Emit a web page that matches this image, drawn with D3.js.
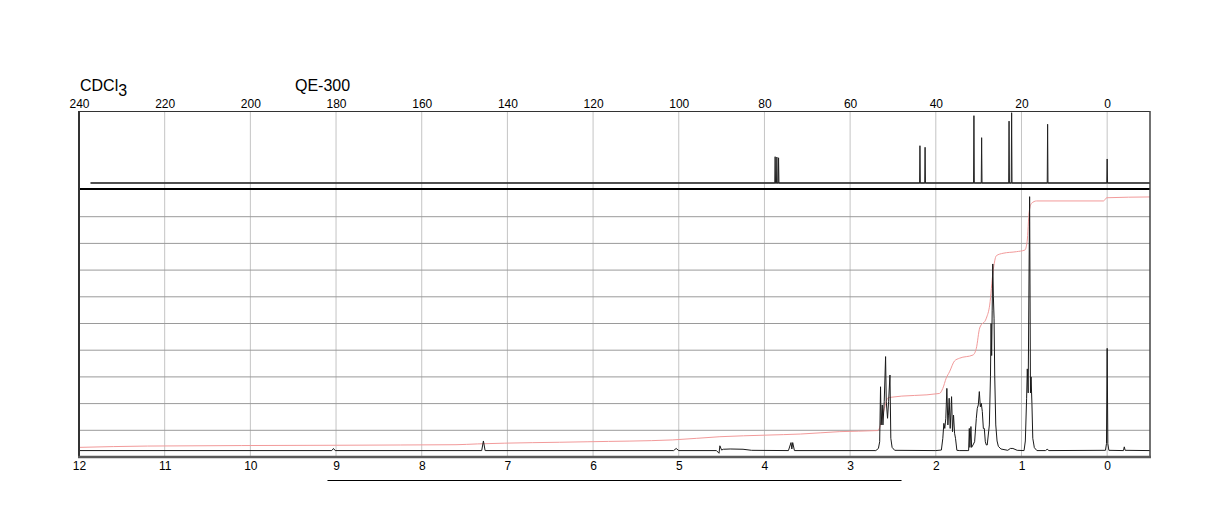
<!DOCTYPE html>
<html>
<head>
<meta charset="utf-8">
<script src="https://cdn.jsdelivr.net/npm/d3@7"></script>
<style>
  html, body { margin: 0; padding: 0; background: #fff; }
  svg { display: block; font-family: "Liberation Sans", Arial, sans-serif; }
</style>
</head>
<body>
<svg id="chart" width="1224" height="528"></svg>
<script>
// ---------------- DATA ----------------
const solventLabel = "CDCl";
const solventSub = "3";
const instrumentLabel = "QE-300";

const c13Ticks = [240, 220, 200, 180, 160, 140, 120, 100, 80, 60, 40, 20, 0];
const h1Ticks = [12, 11, 10, 9, 8, 7, 6, 5, 4, 3, 2, 1, 0];
const h1GridLevels = [10, 20, 30, 40, 50, 60, 70, 80, 90];

// 13C spectrum: peak positions (ppm) and heights (% of panel)
const c13Range = [237.3, -10];
const c13Baseline = 7.7;
const c13PeakPpm = [77.5, 77.1, 76.7, 43.7, 42.5, 31.1, 29.3, 22.9, 22.3, 13.9, 0];
const c13PeakHeight = [41.4, 41.0, 40.0, 55.5, 53.5, 94.0, 65.8, 87.0, 97.8, 83.0, 38.5];

// 1H spectrum trace (ppm, intensity % of panel)
const h1Ppm = [
  12.0, 9.05, 9.03, 9.01, 7.30, 7.28, 7.26, 5.06, 5.03, 5.00,
  4.56, 4.53, 4.52, 4.50, 4.48, 4.40, 4.25, 4.15, 3.72, 3.69, 3.68, 3.67, 3.65,
  2.70, 2.67, 2.655, 2.645, 2.638, 2.625, 2.617, 2.602, 2.586, 2.578, 2.563, 2.551, 2.535, 2.525, 2.51, 2.48,
  2.00, 1.935, 1.918, 1.906, 1.895, 1.883, 1.871, 1.859, 1.852, 1.844, 1.832, 1.816, 1.805, 1.793, 1.781, 1.770, 1.754, 1.72,
  1.625, 1.617, 1.609, 1.602, 1.590, 1.582, 1.566,
  1.547, 1.527, 1.516, 1.504, 1.492, 1.480, 1.469, 1.457, 1.445, 1.434, 1.422, 1.41,
  1.40, 1.375, 1.362, 1.355, 1.348, 1.342, 1.335, 1.328, 1.32, 1.312, 1.30, 1.285, 1.27, 1.24,
  1.16, 1.13, 1.10, 1.05,
  0.97, 0.955, 0.94, 0.932, 0.922, 0.905, 0.895, 0.888, 0.878, 0.868, 0.85, 0.82,
  0.72, 0.70, 0.68, 0.02, 0.008, 0.0, -0.008, -0.02,
  -0.19, -0.20, -0.21, -0.5
];
const h1Int = [
  2.4, 2.4, 3.2, 2.4, 2.4, 6.0, 2.4, 2.4, 3.2, 2.4,
  2.4, 1.4, 4.2, 2.6, 2.9, 3.0, 2.9, 2.5, 2.4, 5.4, 3.0, 5.4, 2.4,
  2.4, 3.2, 5.7, 26.3, 12.0, 19.5, 12.0, 20.7, 37.6, 20.7, 14.5, 20.7, 30.7, 7.0, 3.6, 2.5,
  2.4, 2.6, 7.0, 12.6, 10.7, 14.5, 25.7, 12.0, 15.7, 22.0, 10.7, 22.6, 9.5, 15.7, 8.9, 7.0, 2.5, 2.4,
  2.4, 2.4, 10.7, 3.6, 11.4, 3.6, 4.5,
  5.7, 14.5, 18.2, 19.5, 24.5, 18.8, 20.1, 17.0, 10.7, 10.7, 5.7, 4.5,
  4.5, 12.0, 30.0, 50.0, 38.0, 55.0, 72.3, 60.0, 52.0, 30.0, 12.0, 6.0, 4.0, 3.0,
  2.5, 3.2, 3.2, 2.5,
  2.4, 6.0, 22.0, 33.0, 24.0, 97.5, 24.0, 30.0, 20.0, 7.0, 3.5, 2.4,
  2.4, 2.9, 2.4, 2.5, 5.0, 40.7, 5.0, 2.5,
  2.4, 3.8, 2.5, 2.4
];

// 1H integral curve (ppm, % of panel)
const intPpm = [12.0, 11.2, 9.0, 8.25, 7.6, 7.35, 6.07, 5.07, 4.52, 3.97, 3.58, 3.12, 2.68,
  2.668, 2.64, 2.60, 2.563, 2.543, 1.957, 1.918, 1.879, 1.84, 1.781, 1.723, 1.566, 1.527,
  1.488, 1.41, 1.371, 1.332, 1.293, 1.215, 1.059, 0.961, 0.934, 0.91, 0.883, 0.824, 0.043, 0.004, -0.5];
const intVal = [3.6, 4.1, 4.4, 4.5, 4.6, 4.9, 5.7, 6.4, 7.6, 8.2, 8.6, 9.5, 9.9,
  10.1, 12.6, 18.2, 22.0, 22.3, 23.8, 25.7, 29.5, 31.9, 36.0, 37.0, 38.2, 40.7,
  48.3, 52.0, 56.9, 69.4, 75.4, 76.3, 76.9, 77.5, 80.7, 91.9, 95.0, 95.9, 95.9, 97.1, 97.4];

// ---------------- DRAW ----------------
const svg = d3.select("#chart");
const L = 79, R = 1150, topY = 111, midY = 189, botY = 457;

const xC = d3.scaleLinear().domain([240, -10]).range([L, R]);
const xH = d3.scaleLinear().domain([12, -0.5]).range([L, R]);
const yC = d3.scaleLinear().domain([0, 100]).range([midY, topY]);
const yH = d3.scaleLinear().domain([0, 100]).range([botY, midY + 1]);

// vertical grid (shared)
svg.append("g").selectAll("line").data(h1Ticks.filter(d => d < 12)).join("line")
  .attr("x1", d => xH(d)).attr("x2", d => xH(d))
  .attr("y1", topY).attr("y2", botY)
  .attr("stroke", "#c4c4c4").attr("stroke-width", 1);

// horizontal grid in 1H panel
svg.append("g").selectAll("line").data(h1GridLevels).join("line")
  .attr("x1", L).attr("x2", R)
  .attr("y1", d => yH(d)).attr("y2", d => yH(d))
  .attr("stroke", "#9a9a9a").attr("stroke-width", 1);

// 13C trace
const c13Pts = [[c13Range[0], c13Baseline]];
c13PeakPpm.forEach((p, i) => {
  c13Pts.push([p + 0.09, c13Baseline], [p, c13PeakHeight[i]], [p - 0.09, c13Baseline]);
});
c13Pts.push([c13Range[1], c13Baseline]);
svg.append("line")
  .attr("x1", xC(c13Range[0])).attr("x2", xC(c13Range[1]))
  .attr("y1", yC(c13Baseline)).attr("y2", yC(c13Baseline))
  .attr("stroke", "#555").attr("stroke-width", 1.6);
svg.append("path")
  .attr("d", d3.line().x(d => xC(d[0])).y(d => yC(d[1]))(c13Pts))
  .attr("fill", "none").attr("stroke", "#222").attr("stroke-width", 1);

// integral
svg.append("path")
  .attr("d", d3.line().curve(d3.curveMonotoneX).x(d => xH(d[0])).y(d => yH(d[1]))(intPpm.map((p, i) => [p, intVal[i]])))
  .attr("fill", "none").attr("stroke", "#f29a9a").attr("stroke-width", 1);

// 1H trace
svg.append("path")
  .attr("d", d3.line().x(d => xH(d[0])).y(d => yH(d[1]))(h1Ppm.map((p, i) => [p, h1Int[i]])))
  .attr("fill", "none").attr("stroke", "#1a1a1a").attr("stroke-width", 1);

// frame
svg.append("line").attr("x1", L).attr("x2", R).attr("y1", topY + 0.5).attr("y2", topY + 0.5)
  .attr("stroke", "#333").attr("stroke-width", 1);
svg.append("line").attr("x1", L).attr("x2", R).attr("y1", midY).attr("y2", midY)
  .attr("stroke", "#000").attr("stroke-width", 2);
svg.append("line").attr("x1", R).attr("x2", R).attr("y1", topY).attr("y2", botY)
  .attr("stroke", "#444").attr("stroke-width", 1.5);
svg.append("line").attr("x1", L).attr("x2", L).attr("y1", topY).attr("y2", botY + 1)
  .attr("stroke", "#333").attr("stroke-width", 2);
svg.append("line").attr("x1", L - 1).attr("x2", R + 1).attr("y1", botY).attr("y2", botY)
  .attr("stroke", "#5a5a5a").attr("stroke-width", 2.5);

// axes
const topAxis = svg.append("g").attr("transform", `translate(0,${topY - 3})`)
  .call(d3.axisTop(xC).tickValues(c13Ticks).tickSize(0).tickPadding(0));
const botAxis = svg.append("g").attr("transform", `translate(0,${botY + 4})`)
  .call(d3.axisBottom(xH).tickValues(h1Ticks).tickSize(0).tickPadding(0));
[topAxis, botAxis].forEach(a => {
  a.select(".domain").remove();
  a.selectAll("text").attr("font-size", 12).attr("fill", "#000")
    .attr("font-family", "'Liberation Sans', Arial, sans-serif");
});

// headers
const hdr = svg.append("text").attr("x", 80).attr("y", 91)
  .attr("font-size", 16).attr("fill", "#000");
hdr.append("tspan").text(solventLabel);
hdr.append("tspan").attr("dy", 5).attr("font-size", 16).text(solventSub);
svg.append("text").attr("x", 295).attr("y", 91).attr("font-size", 16).attr("fill", "#000")
  .text(instrumentLabel);

// underline bar below the 1H axis
svg.append("line").attr("x1", xH(9.1)).attr("x2", xH(2.4)).attr("y1", 480.5).attr("y2", 480.5)
  .attr("stroke", "#000").attr("stroke-width", 1.2);
</script>
</body>
</html>
